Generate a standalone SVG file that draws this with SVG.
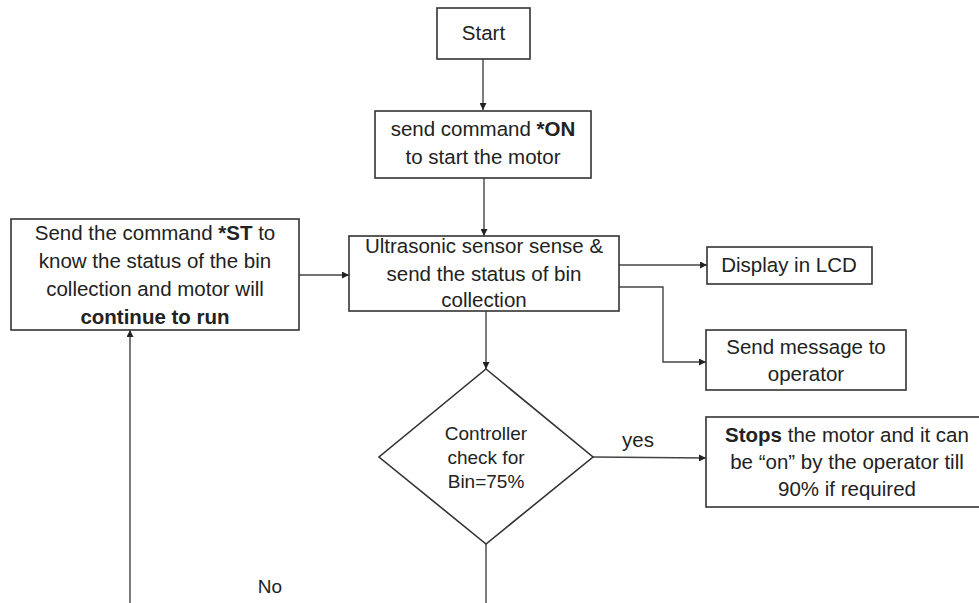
<svg xmlns="http://www.w3.org/2000/svg" width="979" height="603" viewBox="0 0 979 603">
<style>
.box{fill:#fff;stroke:#333;stroke-width:1.6}
.t{font-family:"Liberation Sans",Arial,sans-serif;font-size:20.5px;fill:#222;text-anchor:middle}
.d{font-size:19px}
.b{font-weight:bold}
.c{fill:none;stroke:#444;stroke-width:1.4}
</style>
<defs>
<marker id="ah" viewBox="0 0 10 10" refX="10" refY="5" markerWidth="7" markerHeight="7" markerUnits="userSpaceOnUse" orient="auto">
<path d="M0,0 L10,5 L0,10 z" fill="#222"/>
</marker>
</defs>
<rect width="979" height="603" fill="#fff"/>
<g id="connectors">
<line class="c" x1="483" y1="59" x2="483" y2="110" marker-end="url(#ah)"/>
<line class="c" x1="484" y1="178" x2="484" y2="236" marker-end="url(#ah)"/>
<line class="c" x1="299" y1="275" x2="349" y2="275" marker-end="url(#ah)"/>
<line class="c" x1="619" y1="265" x2="707" y2="265" marker-end="url(#ah)"/>
<polyline class="c" points="619,287 663,287 663,362 706,362" marker-end="url(#ah)"/>
<line class="c" x1="486" y1="311" x2="486" y2="369" marker-end="url(#ah)"/>
<line class="c" x1="593" y1="457" x2="706" y2="458" marker-end="url(#ah)"/>
<line class="c" x1="486" y1="544" x2="486" y2="603"/>
<line class="c" x1="130" y1="603" x2="130" y2="330" marker-end="url(#ah)"/>
<text class="t" x="638" y="447">yes</text>
<text class="t" x="270" y="593" style="font-size:19px">No</text>
</g>
<g id="start">
<rect class="box" x="437" y="8" width="93" height="51"/>
<text class="t" x="483.5" y="40">Start</text>
</g>
<g id="send-on">
<rect class="box" x="375" y="111" width="216" height="67"/>
<text class="t" x="483" y="136">send command <tspan class="b">*ON</tspan></text>
<text class="t" x="483" y="164">to start the motor</text>
</g>
<g id="sensor">
<rect class="box" x="349" y="236" width="270" height="75"/>
<text class="t" x="484" y="253">Ultrasonic sensor sense &amp;</text>
<text class="t" x="484" y="281">send the status of bin</text>
<text class="t" x="484" y="307">collection</text>
</g>
<g id="send-st">
<rect class="box" x="11" y="219" width="288" height="111"/>
<text class="t" x="155" y="240">Send the command <tspan class="b">*ST</tspan> to</text>
<text class="t" x="155" y="268">know the status of the bin</text>
<text class="t" x="155" y="296">collection and motor will</text>
<text class="t b" x="155" y="324">continue to run</text>
</g>
<g id="lcd">
<rect class="box" x="707" y="247" width="165" height="37"/>
<text class="t" x="789" y="272">Display in LCD</text>
</g>
<g id="message">
<rect class="box" x="706" y="330" width="200" height="60"/>
<text class="t" x="806" y="354">Send message to</text>
<text class="t" x="806" y="381">operator</text>
</g>
<g id="decision">
<polygon class="box" points="486,369 593,457 486,544 379,457"/>
<text class="t d" x="486" y="440">Controller</text>
<text class="t d" x="486" y="464">check for</text>
<text class="t d" x="486" y="488">Bin=75%</text>
</g>
<g id="stops">
<rect class="box" x="706" y="417" width="282" height="90"/>
<text class="t" x="847" y="442"><tspan class="b">Stops</tspan> the motor and it can</text>
<text class="t" x="847" y="469">be “on” by the operator till</text>
<text class="t" x="847" y="496">90% if required</text>
</g>
</svg>
